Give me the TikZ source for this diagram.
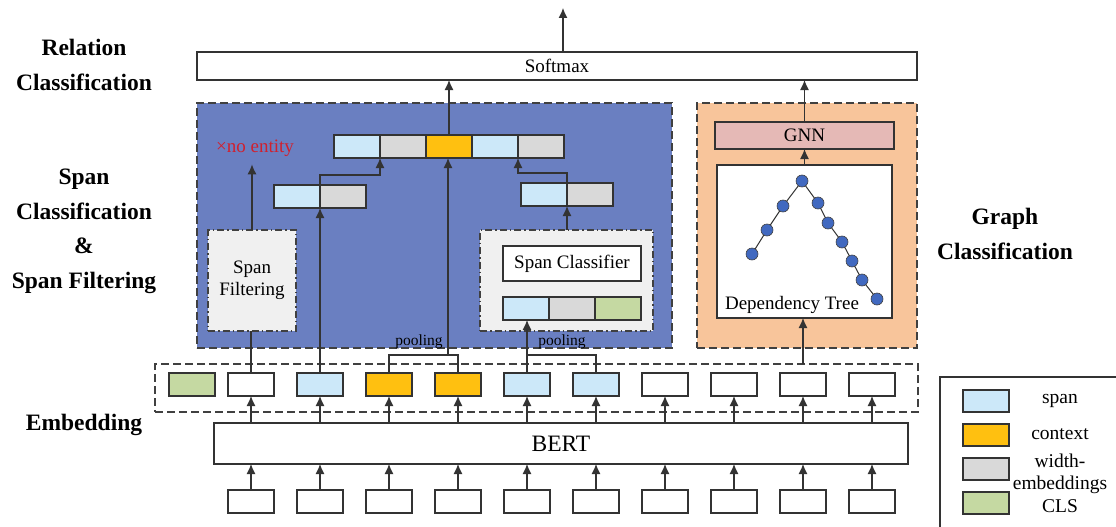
\documentclass[tikz,border=0pt]{standalone}
\usepackage{fontspec}
\setmainfont{Liberation Serif}
\usepackage{tikz}
\usetikzlibrary{arrows.meta,positioning,calc}
\definecolor{spanc}{HTML}{CCE8F9}
\definecolor{ctxc}{HTML}{FFC010}
\definecolor{widthc}{HTML}{D9D9D9}
\definecolor{clsc}{HTML}{C5D9A2}
\definecolor{panelblue}{HTML}{6A7FC1}
\definecolor{panelpeach}{HTML}{F8C59B}
\definecolor{gnnc}{HTML}{E5B9B6}
\definecolor{treec}{HTML}{4169C0}
\definecolor{boxgray}{HTML}{F0F0F0}
\definecolor{noent}{HTML}{D0202E}

\begin{document}
\begin{tikzpicture}[x=1pt, y=-1pt,
        every node/.style={font=\fontsize{19}{22}\selectfont, inner sep=0pt, outer sep=0pt},
        ln/.style={draw=black!80, line width=1.2pt},
        arr/.style={ln, -{Latex[length=10pt,width=9pt]}},
        cell/.style={ln, minimum width=46pt, minimum height=23pt},
        hdr/.style={font=\fontsize{23.5}{34.5}\selectfont\bfseries, align=center},
        panel/.style={draw=black!75, line width=1.1pt, dash pattern=on 8pt off 4pt},
        subbox/.style={draw=black!75, fill=boxgray, line width=1.1pt,
            dash pattern=on 7pt off 3pt on 1.5pt off 3pt},
        tnode/.style={circle, draw=black!75, line width=0.6pt, fill=treec, minimum size=12pt}
    ]
    \useasboundingbox (0,0) rectangle (1116,527);

    % ============ stage labels ============
    \node[hdr] (lrel) at (84,65) {Relation\\Classification};
    \node[hdr] (lspan) at (84,231.5) {Span\\Classification\\\&\\Span Filtering};
    \node[hdr] (lemb) at (84,425) {Embedding};
    \node[hdr] (lgraph) at (1005,234) {Graph\\Classification};

    % ============ panels ============
    \node[panel, fill=panelblue, minimum width=475pt, minimum height=245pt] (bp) at (434.5,225.5) {};
    \node[panel, fill=panelpeach, minimum width=220pt, minimum height=245pt] (op) at (807,225.5) {};
    \node[panel, minimum width=763pt, minimum height=48pt] (emb) at (536.5,388) {};

    % ============ softmax ============
    \node[ln, fill=white, minimum width=720pt, minimum height=28pt] (sm) at (557,66) {Softmax};
    \coordinate (out) at (563,8);

    % ============ span vectors ============
    \node[cell, fill=spanc] (tv1) at (357,146.5) {};
    \node[cell, fill=widthc, right=0pt of tv1] (tv2) {};
    \node[cell, fill=ctxc, right=0pt of tv2] (tv3) {};
    \node[cell, fill=spanc, right=0pt of tv3] (tv4) {};
    \node[cell, fill=widthc, right=0pt of tv4] (tv5) {};

    \node[cell, fill=spanc] (lv1) at (297,196.5) {};
    \node[cell, fill=widthc, right=0pt of lv1] (lv2) {};
    \node[cell, fill=spanc] (rv1) at (544,194.5) {};
    \node[cell, fill=widthc, right=0pt of rv1] (rv2) {};

    \node[text=noent] (ne) at (255,148) {×no entity};

    % filtering / classifier
    \node[subbox, minimum width=88pt, minimum height=101pt, align=center] (sf) at (252,280.5) {Span\\Filtering};
    \node[subbox, minimum width=173pt, minimum height=101pt] (sc) at (566.5,280.5) {};
    \node[ln, fill=white, minimum width=138pt, minimum height=35pt] (scl) at (572,263.5) {Span Classifier};
    \node[cell, fill=spanc] (cv1) at (526,308.5) {};
    \node[cell, fill=widthc, right=0pt of cv1] (cv2) {};
    \node[cell, fill=clsc, right=0pt of cv2] (cv3) {};

    % ============ graph branch ============
    \node[ln, fill=gnnc, minimum width=179pt, minimum height=27pt] (gnn) at (804.5,135.5) {GNN};
    \node[ln, fill=white, minimum width=175pt, minimum height=153pt] (dt) at (804.5,241.5) {};
    \node (dtl) at (792,305) {Dependency Tree};
    \foreach \n/\x/\y in {0/802/181, 1/783/206, 2/767/230, 3/752/254, 4/818/203,
            5/828/223, 6/842/242, 7/852/261, 8/862/280, 9/877/299}
        \coordinate (t\n) at (\x,\y);
    \foreach \a/\b in {0/1, 1/2, 2/3, 0/4, 4/5, 5/6, 6/7, 7/8, 8/9}
        \draw[black!80, line width=1pt] (t\a) -- (t\b);
    \foreach \n in {0,...,9}
        \node[tnode] (tn\n) at (t\n) {};

    % ============ embedding, BERT, inputs ============
    \node[cell, fill=clsc] (e1) at (192,384.5) {};
    \foreach \i/\c in {2/white, 3/spanc, 4/ctxc, 5/ctxc, 6/spanc, 7/spanc,
            8/white, 9/white, 10/white, 11/white}
        \node[cell, fill=\c] (e\i) at ({251+69*(\i-2)},384.5) {};
    \node[ln, fill=white, minimum width=694pt, minimum height=41pt,
        font=\fontsize{23.5}{26}\selectfont] (bert) at (561,443.5) {BERT};
    \foreach \i in {2,...,11} {
        \node[cell, fill=white] (in\i) at ({251+69*(\i-2)},501.5) {};
        \draw[arr] (in\i.north) -- (in\i.north |- bert.south);
        \draw[arr] (e\i.south |- bert.north) -- (e\i.south);
    }

    % ============ pooling ============
    \coordinate (p1) at (448,355);
    \coordinate (p2) at (527,355);
    \draw[ln] (e4.north) |- (p1) -| (e5.north);
    \draw[ln] (p2) -| (e7.north);
    \node[font=\fontsize{15.5}{18}\selectfont] (pl1) at (419,342) {pooling};
    \node[font=\fontsize{15.5}{18}\selectfont] (pl2) at (562,342) {pooling};

    % ============ connectors ============
    \draw[arr] (out |- sm.north) -- (out);
    \draw[arr] (p1) -- (p1 |- tv3.south);
    \draw[arr] (tv3.north) -- (tv3.north |- sm.south);
    \draw[arr] (e3.north) -- (lv1.south east);
    \draw[arr] (lv1.north east) -- ++(0,-10) -| (tv1.south east);
    \draw[arr] (rv1.north east) -- ++(0,-10) -| (tv4.south east);
    \draw[arr] (rv1.south east |- sc.north) -- (rv1.south east);
    \draw[arr] (e6.north) -- (e6.north |- cv1.south);
    \draw[ln] (e2.north) -- (e2.north |- sf.south);
    \draw[arr] (sf.north) -- ($(sf.north |- ne.south)+(0,8)$);
    \draw[arr] (e10.north |- emb.north) -- (e10.north |- dt.south);
    \draw[arr] (dt.north) -- (gnn.south);
    \draw[arr] (gnn.north) -- (gnn.north |- sm.south);

    % ============ legend ============
    \node[ln, anchor=north west, minimum width=200pt, minimum height=170pt] (lg) at (940,377) {};
    \node[cell, minimum height=22pt, fill=spanc] (ls1) at (986,401) {};
    \node[cell, minimum height=22pt, fill=ctxc] (ls2) at (986,435) {};
    \node[cell, minimum height=22pt, fill=widthc] (ls3) at (986,469) {};
    \node[cell, minimum height=22pt, fill=clsc] (ls4) at (986,503) {};
    \node[font=\fontsize{19.5}{21.5}\selectfont] (lt1) at (1060,401) {span};
    \node[font=\fontsize{19.5}{21.5}\selectfont] (lt2) at (1060,434) {context};
    \node[font=\fontsize{19.5}{21.5}\selectfont, align=center] (lt3) at (1060,474) {width-\\embeddings};
    \node[font=\fontsize{19.5}{21.5}\selectfont] (lt4) at (1060,506) {CLS};
\end{tikzpicture}
\end{document}
